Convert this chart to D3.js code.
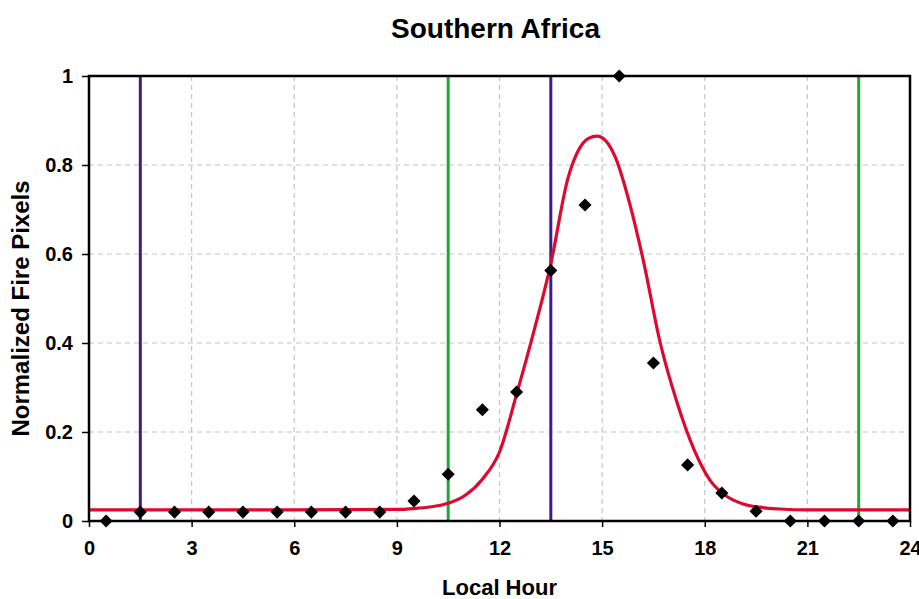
<!DOCTYPE html>
<html lang="en">
<head>
  <meta charset="UTF-8">
  <title>Southern Africa</title>
  <style>
    body {
      margin: 0;
      background: #fff;
      font-family: "Liberation Sans", Arial, sans-serif;
    }
    .tick text {
      font-weight: bold;
      font-size: 20px;
      fill: #000;
    }
  </style>
</head>
<body>
  <svg id="chart"></svg>

  <script src="https://d3js.org/d3.v7.min.js"></script>
  <script>
    // observed hourly fire pixels (diamonds)
    const obsHours = [0.5, 1.5, 2.5, 3.5, 4.5, 5.5, 6.5, 7.5, 8.5, 9.5, 10.5, 11.5,
                      12.5, 13.5, 14.5, 15.5, 16.5, 17.5, 18.5, 19.5, 20.5, 21.5, 22.5, 23.5];
    const obsValues = [0, 0.02, 0.02, 0.02, 0.02, 0.02, 0.02, 0.02, 0.02, 0.045, 0.105, 0.25,
                       0.29, 0.563, 0.71, 1.0, 0.355, 0.126, 0.063, 0.022, 0, 0, 0, 0];

    // fitted curve
    const fitHours = [0, 6, 9, 9.5, 10, 10.5, 11, 11.5, 12, 12.5, 13, 13.5, 14, 14.3,
                      14.6, 14.85, 15.1, 15.4, 15.8, 16.2, 16.7, 17.2, 17.7, 18.15, 18.65,
                      19.1, 19.6, 20.2, 21, 24];
    const fitValues = [0.025, 0.025, 0.026, 0.028, 0.032, 0.04, 0.058, 0.094, 0.155, 0.285,
                       0.425, 0.578, 0.77, 0.832, 0.86, 0.865, 0.855, 0.815, 0.715, 0.587,
                       0.4, 0.264, 0.158, 0.092, 0.055, 0.039, 0.031, 0.027, 0.025, 0.025];

    const purpleHours = [1.5, 13.5];
    const greenHours = [10.5, 22.5];

    const xTicks = [0, 3, 6, 9, 12, 15, 18, 21, 24];
    const yTicks = [0, 0.2, 0.4, 0.6, 0.8, 1];

    const width = 919, height = 599;
    const margin = { top: 76, right: 9, bottom: 78, left: 89 };
    const innerW = width - margin.left - margin.right;
    const innerH = height - margin.top - margin.bottom;

    const svg = d3.select("#chart").attr("width", width).attr("height", height);
    const g = svg.append("g").attr("transform", `translate(${margin.left},${margin.top})`);

    const x = d3.scaleLinear().domain([0, 24]).range([0, innerW]);
    const y = d3.scaleLinear().domain([0, 1]).range([innerH, 0]);

    // grid
    g.append("g").selectAll("line")
      .data(xTicks.slice(1, -1))
      .enter().append("line")
      .attr("x1", d => x(d)).attr("x2", d => x(d))
      .attr("y1", 0).attr("y2", innerH)
      .attr("stroke", "#c4c4c4").attr("stroke-width", 1.2)
      .attr("stroke-dasharray", "5,4");

    g.append("g").selectAll("line")
      .data(yTicks.slice(1, -1))
      .enter().append("line")
      .attr("y1", d => y(d)).attr("y2", d => y(d))
      .attr("x1", 0).attr("x2", innerW)
      .attr("stroke", "#c4c4c4").attr("stroke-width", 1.2)
      .attr("stroke-dasharray", "5,4");

    // vertical marker lines
    g.append("g").selectAll("line")
      .data(purpleHours)
      .enter().append("line")
      .attr("x1", d => x(d)).attr("x2", d => x(d))
      .attr("y1", 0).attr("y2", innerH)
      .attr("stroke", "#3c1c8e").attr("stroke-width", 3);

    g.append("g").selectAll("line")
      .data(greenHours)
      .enter().append("line")
      .attr("x1", d => x(d)).attr("x2", d => x(d))
      .attr("y1", 0).attr("y2", innerH)
      .attr("stroke", "#1aaa3c").attr("stroke-width", 3);

    // fitted curve
    const line = d3.line()
      .x((d, i) => x(fitHours[i]))
      .y(d => y(d))
      .curve(d3.curveMonotoneX);

    g.append("path")
      .datum(fitValues)
      .attr("fill", "none")
      .attr("stroke", "#dc0a2e")
      .attr("stroke-width", 3.2)
      .attr("d", line);

    // frame
    g.append("rect")
      .attr("width", innerW).attr("height", innerH)
      .attr("fill", "none").attr("stroke", "#000").attr("stroke-width", 2.5);

    // axes
    const xAxis = g.append("g")
      .attr("transform", `translate(0,${innerH})`)
      .call(d3.axisBottom(x).tickValues(xTicks).tickSize(6).tickPadding(14).tickFormat(d3.format("d")));
    xAxis.select(".domain").remove();
    xAxis.selectAll("line").attr("stroke", "#000").attr("stroke-width", 1.5);

    const yAxis = g.append("g")
      .call(d3.axisLeft(y).tickValues(yTicks).tickSize(7).tickPadding(9).tickFormat(d => d === 0 || d === 1 ? d : d.toFixed(1)));
    yAxis.select(".domain").remove();
    yAxis.selectAll("line").attr("stroke", "#000").attr("stroke-width", 1.5);

    // diamonds
    g.append("g").selectAll("path")
      .data(obsValues)
      .enter().append("path")
      .attr("transform", (d, i) => `translate(${x(obsHours[i])},${y(d)})`)
      .attr("d", d3.symbol().type(d3.symbolDiamond2).size(110))
      .attr("fill", "#000");

    // titles
    svg.append("text")
      .attr("x", margin.left + innerW / 2 - 4).attr("y", 38)
      .attr("text-anchor", "middle")
      .attr("font-weight", "bold").attr("font-size", 28)
      .text("Southern Africa");

    svg.append("text")
      .attr("x", margin.left + innerW / 2).attr("y", 595)
      .attr("text-anchor", "middle")
      .attr("font-weight", "bold").attr("font-size", 22)
      .text("Local Hour");

    svg.append("text")
      .attr("transform", `translate(29,${margin.top + innerH / 2 + 10}) rotate(-90)`)
      .attr("text-anchor", "middle")
      .attr("font-weight", "bold").attr("font-size", 24)
      .text("Normalized Fire Pixels");
  </script>
</body>
</html>
